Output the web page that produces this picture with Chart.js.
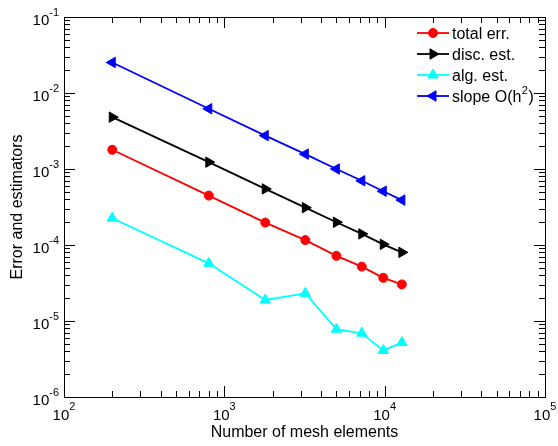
<!DOCTYPE html>
<html>
<head>
<meta charset="utf-8">
<script src="https://cdn.jsdelivr.net/npm/chart.js@4/dist/chart.umd.min.js"></script>
<style>
  body { margin: 0; background: #fff; }
  canvas { display: block; }
</style>
</head>
<body>
<canvas id="myChart" width="558" height="446"></canvas>
<script>
// values
var meshElements = [200, 800, 1800, 3200, 5000, 7200, 9800, 12800];
var totalErr = [1.79e-3, 4.47e-4, 1.97e-4, 1.16e-4, 7.2e-5, 5.2e-5, 3.7e-5, 3.03e-5];
var discEst  = [4.81e-3, 1.23e-3, 5.47e-4, 3.10e-4, 1.99e-4, 1.40e-4, 1.02e-4, 8.0e-5];
var algEst   = [2.25e-4, 5.74e-5, 1.89e-5, 2.31e-5, 7.8e-6, 6.9e-6, 4.1e-6, 5.2e-6];
var slopeH2  = [2.52e-2, 6.2e-3, 2.75e-3, 1.57e-3, 1.0e-3, 7.0e-4, 5.1e-4, 3.9e-4];

var xTickExps = [2, 3, 4, 5];
var yTickExps = [-6, -5, -4, -3, -2, -1];

var FONT = "'Liberation Sans', Arial, Helvetica, sans-serif";

function pts(vals) {
    var out = [];
    for (var i = 0; i < meshElements.length; i++) {
        out.push({x: meshElements[i], y: vals[i]});
    }
    return out;
}

function series(label, vals, color, style, rot, r) {
    return {
        label: label,
        data: pts(vals),
        borderColor: color,
        backgroundColor: color,
        borderWidth: 1.8,
        pointStyle: style,
        rotation: rot,
        pointRadius: r,
        pointBorderWidth: 1,
        pointHoverRadius: r,
        tension: 0,
        fill: false
    };
}

// frame, inward ticks and 10^n labels
var frameAndTicks = {
    id: 'frameAndTicks',
    afterDraw: function(chart) {
        var ctx = chart.ctx;
        var a = chart.chartArea;
        var xs = chart.scales.x, ys = chart.scales.y;
        ctx.save();
        ctx.strokeStyle = '#000';
        ctx.lineWidth = 1;
        ctx.strokeRect(Math.round(a.left) + 0.5, Math.round(a.top) + 0.5,
            Math.round(a.right - a.left), Math.round(a.bottom - a.top));

        ctx.beginPath();
        var d, m, p, len;
        for (d = 2; d < 5; d++) {
            for (m = 1; m < 10; m++) {
                p = Math.round(xs.getPixelForValue(m * Math.pow(10, d))) + 0.5;
                len = m == 1 ? 11 : 6;
                ctx.moveTo(p, a.bottom); ctx.lineTo(p, a.bottom - len);
                ctx.moveTo(p, a.top); ctx.lineTo(p, a.top + len);
            }
        }
        for (d = -6; d < -1; d++) {
            for (m = 1; m < 10; m++) {
                p = Math.round(ys.getPixelForValue(m * Math.pow(10, d))) + 0.5;
                len = m == 1 ? 11 : 6;
                ctx.moveTo(a.left, p); ctx.lineTo(a.left + len, p);
                ctx.moveTo(a.right, p); ctx.lineTo(a.right - len, p);
            }
        }
        ctx.stroke();

        ctx.fillStyle = '#000';
        ctx.textBaseline = 'alphabetic';
        var i, e, w1, w2, x0;
        for (i = 0; i < xTickExps.length; i++) {
            e = String(xTickExps[i]);
            p = xs.getPixelForValue(Math.pow(10, xTickExps[i]));
            ctx.font = '15px ' + FONT; w1 = ctx.measureText('10').width;
            ctx.font = '11px ' + FONT; w2 = ctx.measureText(e).width;
            x0 = p - (w1 + w2) / 2;
            ctx.textAlign = 'left';
            ctx.font = '15px ' + FONT;
            ctx.fillText('10', x0, a.bottom + 23);
            ctx.font = '11px ' + FONT;
            ctx.fillText(e, x0 + w1, a.bottom + 13);
        }
        for (i = 0; i < yTickExps.length; i++) {
            e = String(yTickExps[i]);
            p = ys.getPixelForValue(Math.pow(10, yTickExps[i]));
            ctx.font = '11px ' + FONT; w2 = ctx.measureText(e).width;
            x0 = a.left - 5 - w2;
            ctx.textAlign = 'left';
            ctx.fillText(e, x0, p - 1);
            ctx.font = '15px ' + FONT;
            ctx.textAlign = 'right';
            ctx.fillText('10', x0, p + 8);
        }
        ctx.restore();
    }
};

// legend with line + marker, top right inside the axes
var lineLegend = {
    id: 'lineLegend',
    afterDraw: function(chart) {
        var ctx = chart.ctx;
        var sets = chart.data.datasets;
        ctx.save();
        for (var i = 0; i < sets.length; i++) {
            var ds = sets[i];
            var y = 33 + i * 21;
            ctx.strokeStyle = ds.borderColor;
            ctx.lineWidth = ds.borderWidth;
            ctx.beginPath();
            ctx.moveTo(417, y); ctx.lineTo(449, y);
            ctx.stroke();
            ctx.fillStyle = ds.backgroundColor;
            ctx.lineWidth = 1;
            Chart.helpers.drawPoint(ctx, {
                pointStyle: ds.pointStyle, rotation: ds.rotation,
                radius: ds.pointRadius, borderWidth: 1
            }, 433, y);
            ctx.fillStyle = '#000';
            ctx.textAlign = 'left';
            ctx.textBaseline = 'alphabetic';
            // "²" drawn as a raised small 2, like the original
            var parts = ds.label.split('²');
            var x = 452;
            ctx.font = '16px ' + FONT;
            ctx.fillText(parts[0], x, y + 6);
            if (parts.length > 1) {
                x += ctx.measureText(parts[0]).width;
                ctx.font = '11px ' + FONT;
                ctx.fillText('2', x + 0.5, y - 2);
                x += ctx.measureText('2').width + 1;
                ctx.font = '16px ' + FONT;
                ctx.fillText(parts[1], x, y + 6);
            }
        }
        ctx.restore();
    }
};

var myChart = new Chart(document.getElementById('myChart').getContext('2d'), {
    type: 'line',
    data: {
        datasets: [
            series('total err.', totalErr, '#ff0000', 'circle', 0, 4.5),
            series('disc. est.', discEst, '#000000', 'triangle', 90, 6),
            series('alg. est.', algEst, '#00ffff', 'triangle', 0, 6),
            series('slope O(h²)', slopeH2, '#0000ff', 'triangle', -90, 6)
        ]
    },
    options: {
        responsive: false,
        animation: false,
        layout: { padding: { top: 17, right: 13, left: 0, bottom: 0 } },
        plugins: {
            legend: { display: false },
            tooltip: { enabled: false }
        },
        scales: {
            x: {
                type: 'logarithmic',
                min: 100, max: 100000,
                grid: { display: false },
                border: { display: false },
                ticks: { display: false },
                title: {
                    display: true, text: 'Number of mesh elements', color: '#000',
                    font: { family: FONT, size: 16 }, padding: { top: 0, bottom: 4 }
                },
                afterFit: function(s) { s.height = 49; }
            },
            y: {
                type: 'logarithmic',
                min: 1e-6, max: 1e-1,
                grid: { display: false },
                border: { display: false },
                ticks: { display: false },
                title: {
                    display: true, text: 'Error and estimators', color: '#000',
                    font: { family: FONT, size: 16 }, padding: { top: 8, bottom: 0 }
                },
                afterFit: function(s) { s.width = 64; }
            }
        }
    },
    plugins: [frameAndTicks, lineLegend]
});
</script>
</body>
</html>
